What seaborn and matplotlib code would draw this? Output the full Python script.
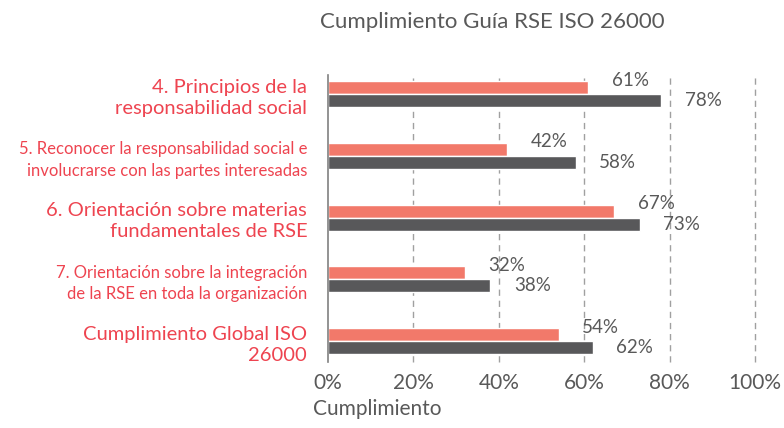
import numpy as np
import pandas as pd
import matplotlib
matplotlib.use("Agg")
import matplotlib.pyplot as plt
import seaborn as sns

# Data
categorias = [
    "4. Principios de la\nresponsabilidad social",
    "5. Reconocer la responsabilidad social e\ninvolucrarse con las partes interesadas",
    "6. Orientación sobre materias\nfundamentales de RSE",
    "7. Orientación sobre la integración\nde la RSE en toda la organización",
    "Cumplimiento Global ISO\n26000",
]
serie_1 = [61, 42, 67, 32, 54]
serie_2 = [78, 58, 73, 38, 62]
series = ["Serie 1", "Serie 2"]
x_ticks = [0, 20, 40, 60, 80, 100]

df = pd.DataFrame({
    "categoria": categorias * 2,
    "serie": [series[0]] * len(categorias) + [series[1]] * len(categorias),
    "valor": serie_1 + serie_2,
})

sns.set_theme(style="white")
plt.rcParams["font.family"] = ["Lato", "DejaVu Sans"]

gris = "#595959"
salmon = "#F2796A"
oscuro = "#58585A"
rojo = "#EE4450"

fig = plt.figure(figsize=(7.84, 4.28), dpi=100)
ax = fig.add_axes([328 / 784, 1 - 362 / 428, 427 / 784, 287 / 428])

sns.barplot(data=df, y="categoria", x="valor", hue="serie", orient="h",
            palette=[salmon, oscuro], width=0.42, legend=False, ax=ax,
            saturation=1)

# value labels
for cont, dy in zip(ax.containers, [-0.12, 0.0]):
    for bar in cont:
        w = bar.get_width()
        yc = bar.get_y() + bar.get_height() / 2 + dy
        ax.annotate(f"{w:.0f}%", (w, yc), xytext=(17, 0), textcoords="offset points",
                    ha="left", va="center", fontsize=13.5, color=gris)

ax.set_xlim(0, 100)
ax.set_ylim(4.34, -0.31)
ax.set_xticks(x_ticks)
ax.set_xticklabels([f"{t}%" for t in x_ticks], fontsize=15, color=gris)
ax.tick_params(axis="x", length=0, pad=8)
ax.tick_params(axis="y", length=0, pad=15)

sizes = [14.5, 12, 14.5, 12, 14.5]
for lab, s in zip(ax.get_yticklabels(), sizes):
    lab.set_fontsize(s)
    lab.set_color(rojo)
    lab.set_linespacing(1.3 if s > 13 else 1.4)

ax.set_ylabel("")
ax.set_xlabel("Cumplimiento", fontsize=15, color=gris, ha="left")
ax.xaxis.set_label_coords(-15 / 427, -0.13)

for t in x_ticks[1:]:
    ax.axvline(t, color="#A0A0A0", linestyle=(0, (4.5, 3.5)), linewidth=1, zorder=0,
               clip_on=False)

for s in ["top", "right", "bottom"]:
    ax.spines[s].set_visible(False)
ax.spines["left"].set_color("#808080")
ax.spines["left"].set_linewidth(1.2)

fig.text(492 / 784, 1 - 22 / 428, "Cumplimiento Guía RSE ISO 26000", ha="center",
         va="center", fontsize=16, color=gris)

fig.savefig("out.png", dpi=100)
